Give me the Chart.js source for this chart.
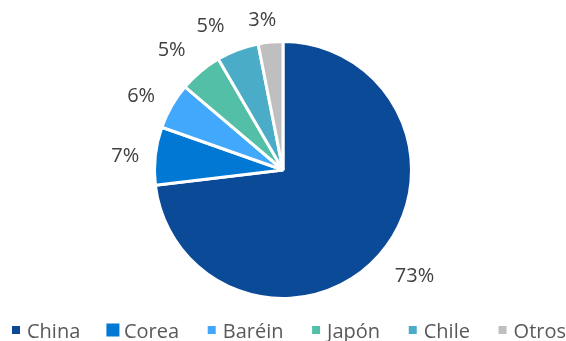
<!DOCTYPE html>
<html>
<head>
<meta charset="utf-8">
<script src="https://cdn.jsdelivr.net/npm/chart.js@4.4.0/dist/chart.umd.min.js"></script>
<style>
  html, body { margin: 0; padding: 0; background: #fff; }
  #wrap { width: 566px; height: 341px; }
</style>
</head>
<body>
<div id="wrap"><canvas id="pieChart" width="566" height="341"></canvas></div>
<script>
const countries = ["China", "Corea", "Baréin", "Japón", "Chile", "Otros"];
const shares = [73.1, 7.3, 5.8, 5.4, 5.3, 3.1];
const shareLabels = ["73%", "7%", "6%", "5%", "5%", "3%"];
const sliceColors = ["#0b4a97", "#0078d4", "#41a8fb", "#53bfa6", "#4aacc6", "#bfbfbf"];

// labels outside the slices, placed from the arc geometry
// (small angle / distance tweaks to mimic the "best fit" placement)
const labelTweaks = [
  { da: -2.9, dr: 40 },
  { da: -0.8, dr: 30 },
  { da: -2.0, dr: 32 },
  { da: -2.8, dr: 35.5 },
  { da: -6.0, dr: 33 },
  { da: -2.2, dr: 24 },
];
const outsideLabels = {
  id: "outsideLabels",
  afterDatasetsDraw(chart) {
    const ctx = chart.ctx;
    const meta = chart.getDatasetMeta(0);
    ctx.save();
    ctx.font = "20px 'Open Sans'";
    ctx.fillStyle = "#404040";
    ctx.textAlign = "center";
    ctx.textBaseline = "middle";
    meta.data.forEach((arc, i) => {
      const p = arc.getProps(["x", "y", "startAngle", "endAngle", "outerRadius"], true);
      const mid = (p.startAngle + p.endAngle) / 2 + (labelTweaks[i].da * Math.PI) / 180;
      const r = p.outerRadius + labelTweaks[i].dr;
      ctx.fillText(shareLabels[i], p.x + Math.cos(mid) * r, p.y + Math.sin(mid) * r + 1);
    });
    ctx.restore();
  },
};

// legend row drawn by hand so it keeps one line like the original
const bottomLegend = {
  id: "bottomLegend",
  afterDraw(chart) {
    const ctx = chart.ctx;
    const items = chart.legend.legendItems;
    ctx.save();
    ctx.font = "20px 'Open Sans'";
    ctx.textBaseline = "alphabetic";
    const widths = items.map((it) => 15 + ctx.measureText(it.text).width);
    const left = 12;
    const gap = (chart.width - left - widths.reduce((a, b) => a + b, 0)) / (items.length - 1);
    let x = left;
    items.forEach((it, i) => {
      const s = i === 1 ? 13 : 8;
      ctx.fillStyle = it.fillStyle;
      ctx.fillRect(x + 4 - s / 2, 330 - s / 2, s, s);
      ctx.fillStyle = "#595959";
      ctx.fillText(it.text, x + 15, 338);
      x += widths[i] + gap;
    });
    ctx.restore();
  },
};

const pieConfig = {
  type: "pie",
  data: {
    labels: countries,
    datasets: [
      {
        data: shares,
        backgroundColor: sliceColors,
        borderColor: "#ffffff",
        borderWidth: 3,
      },
    ],
  },
  options: {
    responsive: false,
    animation: false,
    layout: {
      padding: { top: 40, bottom: 41 },
    },
    plugins: {
      tooltip: { enabled: false },
      legend: { display: false },
    },
  },
  plugins: [outsideLabels, bottomLegend],
};

const pieChart = new Chart(document.getElementById("pieChart"), pieConfig);
</script>
</body>
</html>
